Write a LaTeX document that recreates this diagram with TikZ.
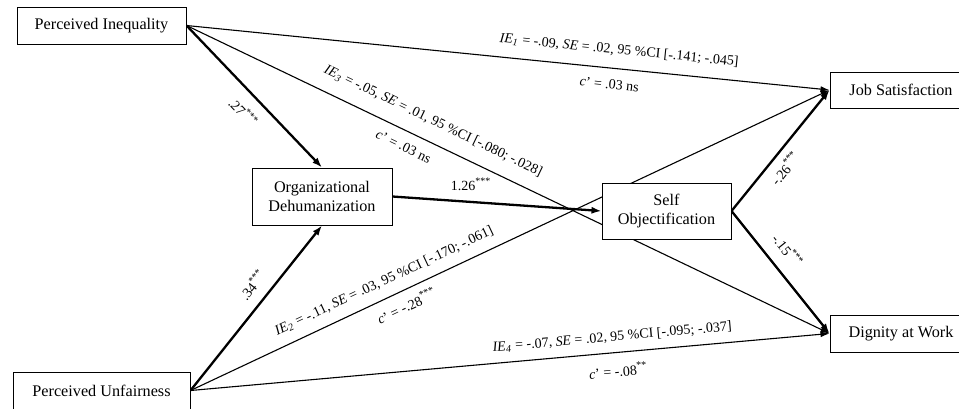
\documentclass[tikz,border=0pt]{standalone}
\usepackage{fontspec}
\setmainfont{Liberation Serif}
\usetikzlibrary{arrows.meta,backgrounds}

\begin{document}
\begin{tikzpicture}[
        x=0.5pt, y=-0.5pt,
        varbox/.style={draw, fill=white, line width=0.5pt, font=\fontsize{8.1}{9.4}\selectfont, align=center, inner sep=0pt},
        coef/.style={font=\fontsize{7}{8}\selectfont, inner sep=1pt},
        thinpath/.style={line width=0.55pt, -{Latex[length=4.5pt,width=3pt]}},
        thickpath/.style={line width=1.15pt, -{Latex[length=5pt,width=3.6pt]}}
    ]
    \useasboundingbox (0,0) rectangle (959,408);

    % === Variables ===
    \node[varbox, minimum width=84.5pt, minimum height=18.5pt] (ineq) at (101.5,25.5) {Perceived Inequality};
    \node[varbox, minimum width=88.5pt, minimum height=18.5pt] (unfair) at (101.5,390.5) {Perceived Unfairness};
    \node[varbox, minimum width=70pt, minimum height=28.5pt] (dehum) at (322,196.5) {Organizational\\Dehumanization};
    \node[varbox, minimum width=64.5pt, minimum height=28pt] (selfobj) at (666.5,211) {Self\\Objectification};
    \node[varbox, minimum width=71pt, minimum height=18pt] (jobsat) at (901,90) {Job Satisfaction};
    \node[varbox, minimum width=71pt, minimum height=18.5pt] (dignity) at (901,333.5) {Dignity at Work};

    \begin{scope}[on background layer]
    % === Direct and indirect effects ===
    \draw[thinpath] (ineq.east) -- (jobsat.west)
        node[coef, sloped, above=5pt, pos=0.67] {\textit{IE}\textsubscript{\textit{1}} = -.09, \textit{SE} = .02, 95 \%CI [-.141; -.045]}
        node[coef, sloped, below=4.5pt, pos=0.66] {\textit{c}’ = .03 ns};
    \draw[thinpath] (ineq.east) -- (dignity.west)
        node[coef, sloped, above=6pt, pos=0.37] {\textit{IE}\textsubscript{\textit{3}} = -.05, \textit{SE} = .01, 95 \%CI [-.080; -.028]}
        node[coef, sloped, below=4pt, pos=0.348] {\textit{c}’ = .03 ns};
    \draw[thinpath] (unfair.east) -- (jobsat.west)
        node[coef, sloped, above=4pt, pos=0.314] {\textit{IE}\textsubscript{\textit{2}} = -.11, \textit{SE} = .03, 95 \%CI [-.170; -.061]}
        node[coef, sloped, below=3pt, pos=0.328] {\textit{c}’ = -.28\textsuperscript{***}};
    \draw[thinpath] (unfair.east) -- (dignity.west)
        node[coef, sloped, above=3.5pt, pos=0.662] {\textit{IE}\textsubscript{\textit{4}} = -.07, \textit{SE} = .02, 95 \%CI [-.095; -.037]}
        node[coef, sloped, below=4.5pt, pos=0.667] {\textit{c}’ = -.08\textsuperscript{**}};

    % === Mediation paths ===
    \draw[thickpath] (ineq.east) -- (dehum.north)
        node[coef, sloped, below=4.5pt, pos=0.52] {.27\textsuperscript{***}};
    \draw[thickpath] (unfair.east) -- (dehum.south)
        node[coef, sloped, above=4pt, pos=0.575] {.34\textsuperscript{***}};
    \draw[thickpath] (dehum.east) -- (selfobj.west)
        node[coef, above=4pt, pos=0.376] {1.26\textsuperscript{***}};
    \draw[thickpath] (selfobj.east) -- (jobsat.west)
        node[coef, sloped, below=2.5pt, pos=0.43] {-.26\textsuperscript{***}};
    \draw[thickpath] (selfobj.east) -- (dignity.west)
        node[coef, sloped, above=5pt, pos=0.42] {-.15\textsuperscript{***}};
    \end{scope}

\end{tikzpicture}
\end{document}
